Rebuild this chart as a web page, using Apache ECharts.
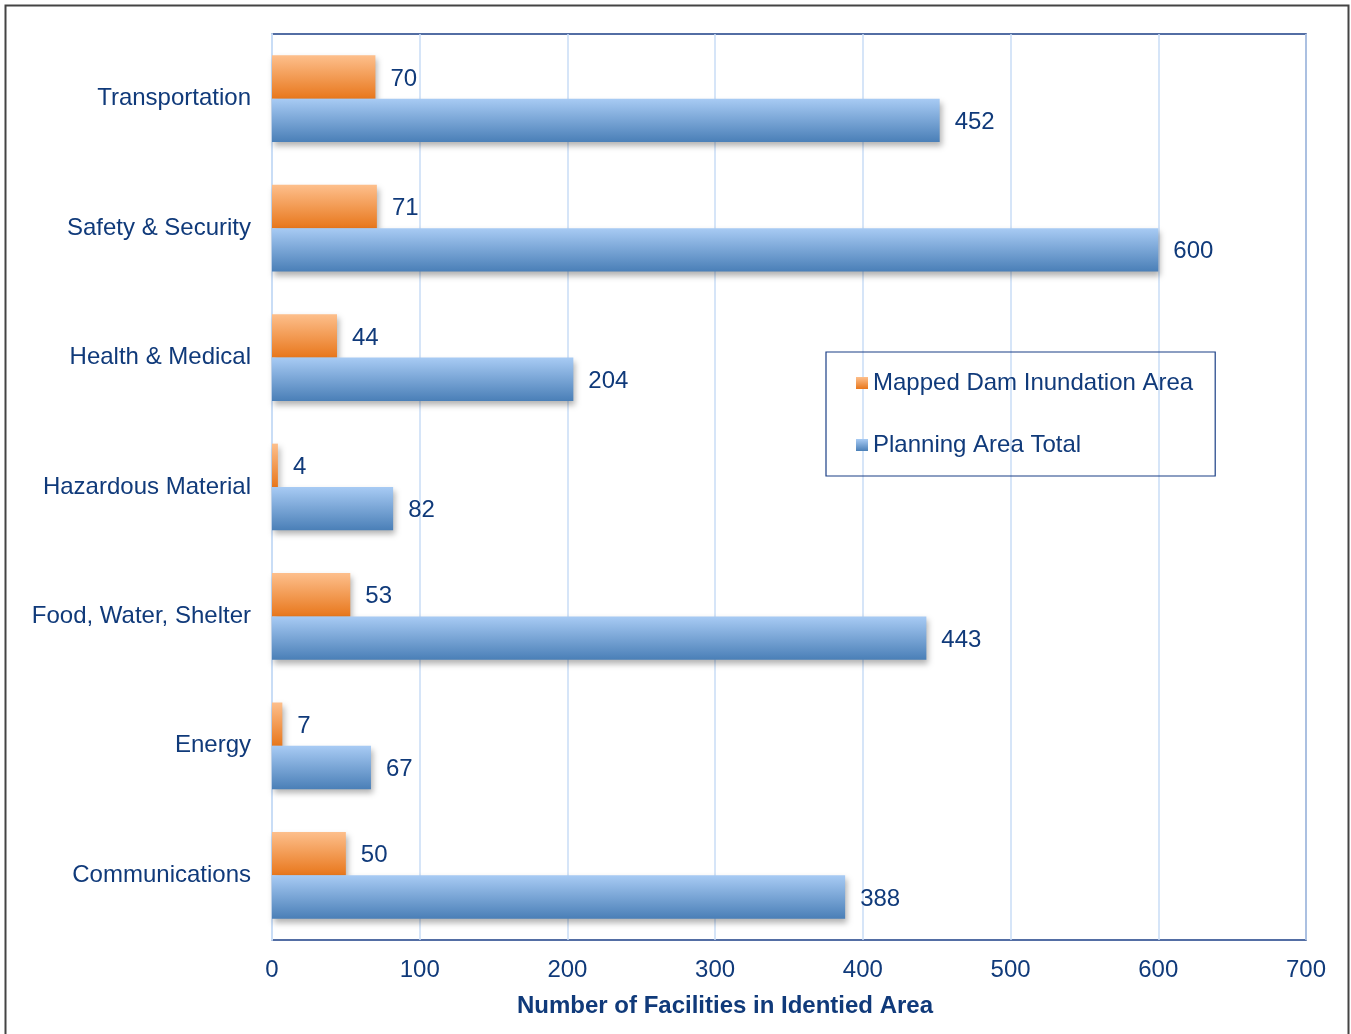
<!DOCTYPE html>
<html><head><meta charset="utf-8">
<script src="https://cdn.jsdelivr.net/npm/echarts@6/dist/echarts.min.js"></script>
<style>html,body{margin:0;padding:0;background:#fff}#c{width:1351px;height:1034px}</style>
</head><body><div id="c"></div>
<script>
const categories = ['Transportation','Safety & Security','Health & Medical','Hazardous Material','Food, Water, Shelter','Energy','Communications'];
const inundation = [70, 71, 44, 4, 53, 7, 50];
const planningTotal = [452, 600, 204, 82, 443, 67, 388];
const xTicks = [0,100,200,300,400,500,600,700];
const xTitle = 'Number of Facilities in Identied Area';

const txt = '#103A7A';
const font = 'Liberation Sans, Arial, sans-serif';
const fs = 24;
const orangeGrad = new echarts.graphic.LinearGradient(0,0,0,1,[{offset:0,color:'#FDBF8C'},{offset:1,color:'#E8771C'}]);
const blueGrad = new echarts.graphic.LinearGradient(0,0,0,1,[{offset:0,color:'#A8CBF4'},{offset:1,color:'#4A7FB7'}]);

const chart = echarts.init(document.getElementById('c'));
chart.setOption({
  animation:false,
  backgroundColor:'#fff',
  textStyle:{fontFamily:font},
  title:{text:xTitle,left:725,top:994,textAlign:'center',padding:0,
         textStyle:{color:txt,fontSize:fs,fontWeight:'bold',fontFamily:font}},
  graphic:[{type:'rect',shape:{x:5.5,y:5.5,width:1343,height:1040},style:{fill:'none',stroke:'#444',lineWidth:2},z:-1},
           {type:'rect',shape:{x:272,y:34,width:1034,height:906},style:{fill:'none',stroke:'#1B3F86',lineWidth:1.5},z:0}],
  grid:{left:272,right:45,top:34,bottom:94,containLabel:false},
  legend:{
    orient:'vertical',left:826,top:352,
    borderColor:'#1B3F86',borderWidth:1.2,
    padding:[19,22,19,30],itemGap:38,
    itemWidth:12,itemHeight:12,icon:'rect',
    textStyle:{color:txt,fontSize:fs,fontFamily:font,padding:[0,0,0,0]},
    data:['Mapped Dam Inundation Area','Planning Area Total']
  },
  xAxis:{
    type:'value',min:0,max:700,interval:100,
    axisLine:{show:false},axisTick:{show:false},
    axisLabel:{color:txt,fontSize:fs,margin:18,fontFamily:font,formatter:v=>xTicks.includes(v)?String(v):''},
    splitLine:{show:true,lineStyle:{color:'#C9DDF6',width:1.5}}
  },
  yAxis:{
    type:'category',inverse:true,data:categories,
    axisLine:{show:true,lineStyle:{color:'#C9DDF6',width:2}},axisTick:{show:false},
    axisLabel:{color:txt,fontSize:fs,margin:21,fontFamily:font}
  },
  series:[
    {name:'Mapped Dam Inundation Area',type:'bar',data:inundation,barGap:'0%',barCategoryGap:'33%',
     itemStyle:{color:orangeGrad,shadowColor:'rgba(0,0,0,0.3)',shadowBlur:6,shadowOffsetY:4,shadowOffsetX:2},
     label:{show:true,position:'right',distance:15,offset:[0,2],color:txt,fontSize:fs,fontFamily:font}},
    {name:'Planning Area Total',type:'bar',data:planningTotal,barGap:'0%',barCategoryGap:'33%',
     itemStyle:{color:blueGrad,shadowColor:'rgba(0,0,0,0.3)',shadowBlur:6,shadowOffsetY:4,shadowOffsetX:2},
     label:{show:true,position:'right',distance:15,offset:[0,2],color:txt,fontSize:fs,fontFamily:font}}
  ]
});
</script></body></html>
